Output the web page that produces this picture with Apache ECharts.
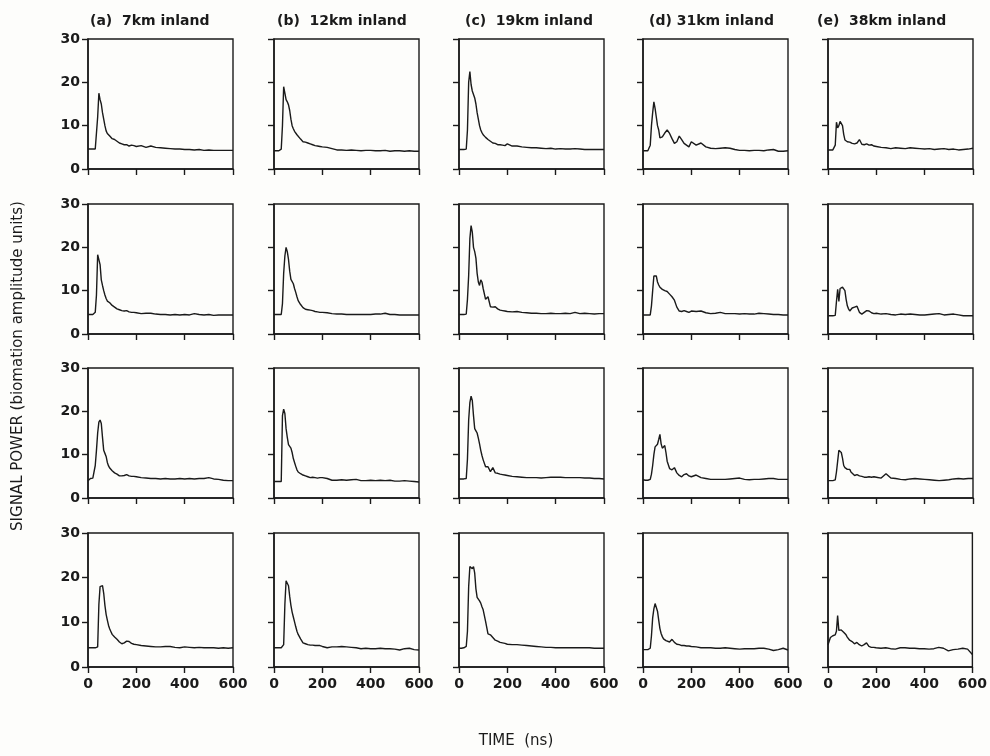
<!DOCTYPE html>
<html><head><meta charset="utf-8">
<script src="https://cdn.jsdelivr.net/npm/echarts@6/dist/echarts.min.js"></script>
<style>html,body{margin:0;padding:0;background:#fdfdfb}#c{width:990px;height:756px}</style>
</head><body><div id="c"></div>
<script>
// time samples (ns), shared by every trace
const times = [0,10,20,30,35,40,45,50,55,60,65,70,75,80,85,90,95,100,110,120,130,140,150,160,170,180,190,200,220,240,260,280,300,320,340,360,380,400,420,440,460,480,500,520,540,560,580,600];

const columnTitles = ['(a)  7km inland', '(b)  12km inland', '(c)  19km inland', '(d) 31km inland', '(e)  38km inland'];
const yAxisTitle = 'SIGNAL POWER (biomation amplitude units)';
const xAxisTitle = 'TIME  (ns)';

// row 1
const a1 = [4.6,4.6,4.6,4.6, 4.6,12,17.5,16,15,13,11.5,10,8.8,8.2,7.8,7.6,7.2,7.0, 6.8,6.4,6.0,5.8,5.6,5.6,5.3,5.5,5.4,5.2, 5.4,5.0,5.3,5.0,4.9,4.8,4.7,4.6,4.6,4.5,4.5,4.4,4.5,4.3,4.4,4.3,4.3,4.3,4.3,4.3];
const b1 = [4.2,4.2,4.2,4.6, 10,19,17.5,16,15.5,14.8,13.5,11.5,10,9.3,8.7,8.4,7.9,7.5, 6.9,6.3,6.2,6.0,5.8,5.6,5.4,5.3,5.2,5.1, 5.0,4.7,4.4,4.4,4.3,4.4,4.3,4.2,4.3,4.3,4.2,4.2,4.3,4.1,4.2,4.2,4.1,4.2,4.1,4.1];
const c1 = [4.5,4.5,4.5,4.6, 9,20,22.5,19.5,18,17.2,16.4,15,13,11.5,10,9.0,8.4,7.9, 7.3,6.8,6.4,6.0,5.9,5.6,5.6,5.5,5.4,5.8, 5.3,5.3,5.1,5.0,4.9,4.9,4.8,4.7,4.8,4.6,4.7,4.6,4.6,4.7,4.6,4.5,4.5,4.5,4.5,4.5];
const d1 = [4.2,4.2,4.2,5.5, 10,13,15.5,14,12,10,9,7.2,7.2,7.4,7.8,8.3,8.7,9.0, 8.2,7.0,5.9,6.3,7.6,6.8,5.9,5.5,5.1,6.3, 5.5,6.0,5.1,4.8,4.7,4.8,4.9,4.8,4.5,4.3,4.3,4.2,4.3,4.3,4.2,4.4,4.5,4.1,4.1,4.2];
const e1 = [4.4,4.4,4.4,5.5, 10.8,9.5,10,11,11.3,10,8,6.7,6.5,6.3,6.5,6.2,6.0,5.9, 5.8,6.0,6.8,5.7,5.6,5.8,5.5,5.6,5.3,5.2, 5.0,4.9,4.7,4.9,4.8,4.7,4.9,4.8,4.7,4.6,4.7,4.5,4.6,4.7,4.5,4.6,4.4,4.5,4.6,4.8];
// row 2
const a2 = [4.5,4.5,4.5,5.0, 9,18.3,18.3,16,12.5,11.2,10,9,8.2,7.6,7.4,7.2,6.8,6.6, 6.2,5.8,5.6,5.4,5.3,5.4,5.1,5.0,5.0,4.9, 4.7,4.8,4.8,4.6,4.5,4.5,4.4,4.5,4.4,4.5,4.4,4.7,4.5,4.4,4.5,4.3,4.4,4.4,4.4,4.4];
const b2 = [4.5,4.5,4.5,4.5, 7,14,18,20,19,17.2,14.5,12.6,12.2,11.6,10.5,9.6,8.6,7.7, 6.8,6.1,5.7,5.6,5.5,5.4,5.2,5.1,5.0,5.0, 4.9,4.7,4.6,4.6,4.5,4.5,4.5,4.5,4.5,4.5,4.6,4.6,4.8,4.5,4.5,4.4,4.4,4.4,4.4,4.4];
const c2 = [4.5,4.5,4.5,4.6, 8,13.5,22,25,23.5,20,19,17.5,14,12,11.2,12.5,12.0,10.5, 8,8.6,6.3,6.2,6.3,5.8,5.5,5.4,5.3,5.2, 5.1,5.2,5.0,4.9,4.8,4.8,4.7,4.7,4.8,4.7,4.7,4.8,4.7,5.0,4.7,4.8,4.7,4.6,4.7,4.7];
const d2 = [4.4,4.4,4.4,4.4, 6.5,10,13.4,13.6,13.4,12,11.3,10.8,10.6,10.3,10.6,10.0,9.9,9.8, 9.2,8.6,7.8,6.2,5.3,5.2,5.4,5.2,5.0,5.3, 5.2,5.3,4.9,4.7,4.8,5.0,4.7,4.7,4.7,4.6,4.7,4.6,4.6,4.8,4.7,4.6,4.5,4.5,4.4,4.4];
const e2 = [4.2,4.2,4.2,4.3, 7.5,10.3,7.5,10.5,10.9,10.8,10.7,10,8,6.5,5.8,5.3,5.6,6.0, 6.2,6.4,5.0,4.6,5.0,5.4,5.3,4.9,4.7,4.8, 4.6,4.7,4.5,4.4,4.6,4.5,4.6,4.5,4.4,4.4,4.5,4.6,4.7,4.4,4.5,4.6,4.4,4.2,4.2,4.2];
// row 3
const a3 = [4.0,4.5,4.6,7.5, 11,15,17.5,18,17.2,14,11,10.3,9.6,8.2,7.4,6.9,6.5,6.3, 5.8,5.5,5.1,5.1,5.2,5.4,5.1,5.0,5.0,4.9, 4.7,4.6,4.5,4.5,4.4,4.5,4.4,4.4,4.5,4.4,4.5,4.4,4.5,4.5,4.7,4.4,4.3,4.1,4.0,4.0];
const b3 = [3.8,3.8,3.8,3.8, 19,20.5,19.5,16,14,12.3,12,11.5,10.5,9.1,8.2,7.3,6.5,6.0, 5.6,5.3,5.1,4.9,4.7,4.8,4.7,4.6,4.7,4.7, 4.5,4.1,4.1,4.2,4.1,4.2,4.3,4.0,4.0,4.1,4.0,4.1,4.0,4.1,3.9,3.9,4.0,3.9,3.8,3.7];
const c3 = [4.4,4.4,4.4,4.5, 9,18,22,23.5,22.5,19,16,15.5,15,13.8,12.5,11,9.8,8.8, 7.2,7.2,6.1,7.0,5.8,5.7,5.5,5.4,5.3,5.2, 5.0,4.9,4.8,4.7,4.7,4.7,4.6,4.7,4.8,4.8,4.8,4.7,4.7,4.7,4.7,4.6,4.6,4.5,4.5,4.4];
const d3 = [4.2,4.1,4.1,4.3, 5.5,7.5,10,11.8,12,12.4,13.5,14.7,12.5,11.5,11.6,12.1,10.5,8.5, 6.8,6.5,7.0,5.8,5.2,4.9,5.4,5.6,5.1,4.9, 5.3,4.7,4.5,4.3,4.3,4.3,4.3,4.4,4.5,4.6,4.3,4.2,4.3,4.3,4.4,4.5,4.5,4.3,4.3,4.3];
const e3 = [4.0,4.0,4.0,4.2, 6,8.5,11,11.4,10.5,9.2,7.5,7.0,6.7,6.6,6.3,6.6,6.0,6.2, 5.2,5.4,5.1,5.0,4.8,4.8,4.9,4.8,4.9,4.8, 4.6,5.6,4.6,4.5,4.3,4.2,4.4,4.5,4.4,4.3,4.2,4.1,4.0,4.1,4.2,4.4,4.5,4.4,4.5,4.5];
// row 4
const a4 = [4.3,4.3,4.3,4.3, 4.3,4.5,14,18,18.4,18.2,16.5,13.8,11.8,10.5,9.3,8.5,7.9,7.3, 6.7,6.2,5.6,5.2,5.4,5.8,5.7,5.3,5.1,5.0, 4.8,4.7,4.6,4.5,4.5,4.6,4.6,4.4,4.3,4.5,4.4,4.3,4.4,4.3,4.3,4.3,4.2,4.3,4.2,4.3];
const b4 = [4.3,4.3,4.3,4.3, 4.3,5,14,19.3,19.3,18.2,15.8,13.8,12.3,11.2,10.1,9,8.0,7.3, 6.3,5.4,5.2,5.0,4.9,4.9,4.8,4.8,4.8,4.6, 4.3,4.5,4.5,4.6,4.5,4.4,4.3,4.1,4.2,4.1,4.1,4.2,4.1,4.1,4.0,3.8,4.1,4.2,3.9,3.8];
const c4 = [4.2,4.2,4.3,4.6, 8,18,22.5,22.5,22,22.5,21,17.5,15.6,15.2,14.8,14.3,13.5,12.8, 10.2,7.4,7.2,6.6,6.0,5.8,5.5,5.4,5.3,5.1, 5.0,5.0,4.9,4.8,4.7,4.6,4.5,4.4,4.4,4.3,4.3,4.3,4.3,4.3,4.3,4.3,4.3,4.2,4.2,4.2];
const d4 = [3.9,3.9,3.9,4.2, 7,11,13,14.2,14,12.5,10.5,8.6,7.5,6.8,6.3,6.1,5.9,5.8, 5.6,6.2,5.5,5.1,5.0,4.8,4.8,4.7,4.7,4.6, 4.5,4.3,4.3,4.3,4.2,4.2,4.3,4.2,4.1,4.0,4.1,4.1,4.1,4.2,4.2,4.0,3.7,3.9,4.2,3.8];
const e4 = [5.0,6.6,7.0,7.2, 8.0,11.5,8.2,8.0,8.3,8.2,7.8,7.6,7.2,6.7,6.4,6.0,5.8,5.7, 5.2,5.5,5.0,4.7,5.0,5.4,4.6,4.4,4.4,4.3, 4.2,4.3,4.1,4.0,4.3,4.3,4.2,4.2,4.1,4.1,4.0,4.1,4.4,4.2,3.6,3.9,4.0,4.2,4.0,2.8];

const rows = [[a1,b1,c1,d1,e1],[a2,b2,c2,d2,e2],[a3,b3,c3,d3,e3],[a4,b4,c4,d4,e4]];

// layout
const colLeft = [88, 274, 459, 643, 828];
const titleLeft = [85, 272, 460, 644, 812];
const rowTop = [39, 204, 368, 533];
const rowH = [130, 130, 130, 134];
const W = 145;
const ink = '#1a1a1a';
const font = 'DejaVu Sans';

const grid = [], xAxis = [], yAxis = [], series = [], title = [];
rows.forEach((row, r) => {
  row.forEach((vals, c) => {
    const i = grid.length;
    grid.push({left: colLeft[c], top: rowTop[r], width: W, height: rowH[r], show: true,
      borderColor: ink, borderWidth: 1.4, backgroundColor: 'transparent'});
    xAxis.push({gridIndex: i, type: 'value', min: 0, max: 600, interval: 200,
      axisLine: {show: true, onZero: false, lineStyle: {color: ink, width: 1.5}},
      axisTick: {show: true, length: 6, lineStyle: {color: ink, width: 1.4}},
      axisLabel: {show: r === 3, color: ink, fontFamily: font, fontWeight: 'bold', fontSize: 14, margin: 10},
      splitLine: {show: false}});
    yAxis.push({gridIndex: i, type: 'value', min: 0, max: 30, interval: 10,
      axisLine: {show: true, lineStyle: {color: ink, width: 1.5}},
      axisTick: {show: true, length: 6, lineStyle: {color: ink, width: 1.4}},
      axisLabel: {show: c === 0, color: ink, fontFamily: font, fontWeight: 'bold', fontSize: 14, margin: 8},
      splitLine: {show: false}});
    series.push({type: 'line', xAxisIndex: i, yAxisIndex: i, symbol: 'none', silent: true,
      lineStyle: {color: ink, width: 1.4}, animation: false,
      data: times.map((t, k) => [t, vals[k]])});
  });
});
columnTitles.forEach((t, c) => {
  title.push({text: t, left: titleLeft[c], top: 9,
    textStyle: {color: ink, fontFamily: font, fontWeight: 'bold', fontSize: 14}});
});

const chart = echarts.init(document.getElementById('c'), null, {renderer: 'canvas'});
chart.setOption({
  backgroundColor: '#fdfdfb',
  animation: false,
  title, grid, xAxis, yAxis, series,
  graphic: [
    {type: 'text', x: 18, y: 366, rotation: Math.PI / 2,
      style: {text: yAxisTitle, fill: ink, font: '15px "DejaVu Sans"', textAlign: 'center', textVerticalAlign: 'middle'}},
    {type: 'text', x: 516, y: 741,
      style: {text: xAxisTitle, fill: ink, font: '15px "DejaVu Sans"', textAlign: 'center', textVerticalAlign: 'middle'}}
  ]
});
</script></body></html>
